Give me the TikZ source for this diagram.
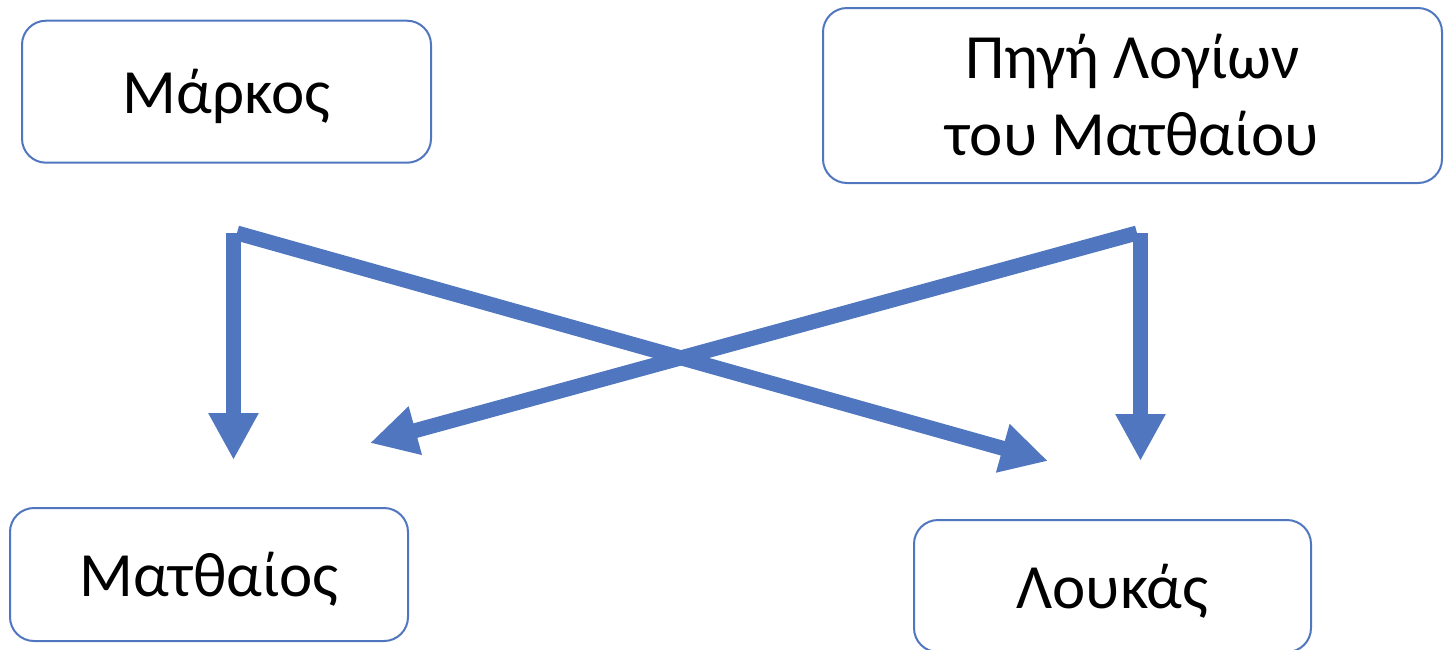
\documentclass[tikz,border=0pt]{standalone}
\usepackage{fontspec}
\setmainfont{Carlito}
\usetikzlibrary{arrows.meta}
\definecolor{accent}{RGB}{80,118,191}
\tikzset{
  box/.style={draw=accent, line width=2pt, rounded corners=24pt, fill=white, align=center, inner sep=0pt,
    font=\fontsize{63}{77}\selectfont, text height=45pt, text depth=0pt},
  flow/.style={draw=accent, line width=15pt, line cap=butt, -{Triangle[length=47pt,width=47pt]}}
}
\begin{document}
\begin{tikzpicture}[x=1pt,y=-1pt]
\useasboundingbox (0,0) rectangle (1444,649);
\node[box, minimum width=409pt, minimum height=142pt, text height=44pt] (markos) at (226.5,91.7) {Μάρκος};
\node[box, minimum width=619pt, minimum height=175pt, text height=119pt] (pigi) at (1132.5,95.5) {Πηγή Λογίων\\του Ματθαίου};
\node[box, minimum width=398pt, minimum height=133pt, text height=44.5pt] (matth) at (209,574.5) {Ματθαίος};
\node[box, minimum width=397pt, minimum height=132pt, text height=44pt] (louk) at (1112.5,586) {Λουκάς};
\coordinate (mv) at (233.5,233);
\coordinate (md) at (237,233);
\coordinate (pv) at (1140.5,233);
\coordinate (pd) at (1137,233);
\coordinate (tm) at (233.5,460);
\coordinate (tmd) at (370,443);
\coordinate (tl) at (1140.5,461);
\coordinate (tld) at (1048,461);
\draw[flow] (mv) -- (tm);
\draw[flow] (md) -- (tld);
\draw[flow] (pv) -- (tl);
\draw[flow] (pd) -- (tmd);
\end{tikzpicture}
\end{document}
